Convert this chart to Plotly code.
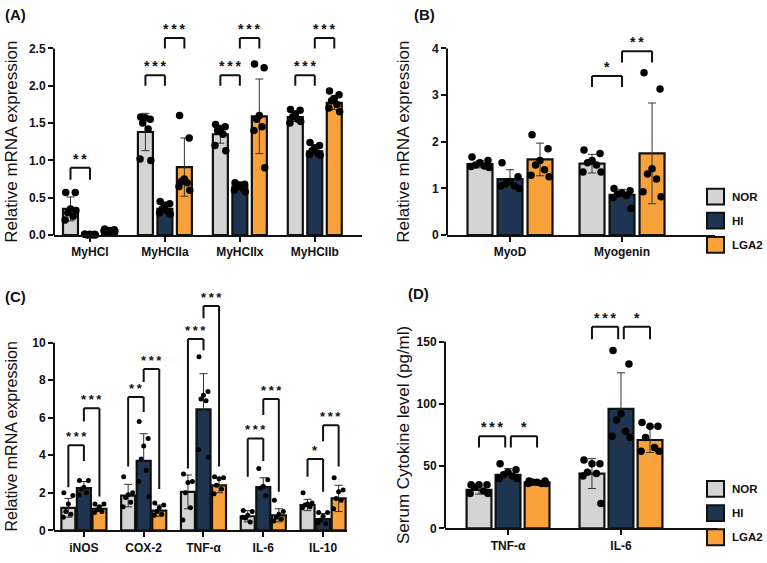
import plotly.graph_objects as go

W, H = 767, 563
FONT = "Arial, Liberation Sans, sans-serif"

series = ["NOR", "HI", "LGA2"]
colors = ["#d4d4d4", "#1e3552", "#f9a23c"]

# ---------------- Panel A ----------------
a_cats = ["MyHCI", "MyHCIIa", "MyHCIIx", "MyHCIIb"]
a_nor_mean = [0.35, 1.38, 1.35, 1.58]
a_hi_mean = [0.01, 0.35, 0.65, 1.12]
a_lga_mean = [0.05, 0.91, 1.59, 1.77]
a_nor_sd = [0.16, 0.25, 0.12, 0.06]
a_hi_sd = [0.01, 0.08, 0.04, 0.05]
a_lga_sd = [0.02, 0.39, 0.50, 0.09]
a_nor_pts = [[0.57, 0.57, 0.35, 0.30, 0.25, 0.20, 0.33],
             [1.58, 1.55, 1.57, 1.50, 1.42, 1.02, 1.00],
             [1.48, 1.45, 1.42, 1.40, 1.35, 1.20, 1.13],
             [1.68, 1.67, 1.62, 1.58, 1.55, 1.50, 1.52]]
a_hi_pts = [[0.01, 0.01, 0.01, 0.0, 0.0, 0.01, 0.0],
            [0.45, 0.42, 0.40, 0.35, 0.32, 0.30, 0.28],
            [0.70, 0.68, 0.67, 0.65, 0.63, 0.60, 0.58],
            [1.24, 1.20, 1.17, 1.13, 1.10, 1.08, 1.07]]
a_lga_pts = [[0.08, 0.07, 0.06, 0.05, 0.04, 0.06, 0.05],
             [1.60, 1.30, 0.75, 0.72, 0.70, 0.65, 0.60],
             [2.29, 2.24, 1.60, 1.55, 1.45, 1.40, 0.90],
             [1.93, 1.88, 1.83, 1.80, 1.75, 1.70, 1.65]]
# (category, group1, group2, top, leg1 bottom, leg2 bottom, stars)
a_brackets = [(0, 0, 1, 0.90, 0.74, 0.74, 2),
              (1, 0, 1, 2.14, 2.00, 2.00, 3), (1, 1, 2, 2.64, 2.50, 2.50, 3),
              (2, 0, 1, 2.14, 2.00, 2.00, 3), (2, 1, 2, 2.64, 2.50, 2.50, 3),
              (3, 0, 1, 2.14, 2.00, 2.00, 3), (3, 1, 2, 2.64, 2.50, 2.50, 3)]

# ---------------- Panel B ----------------
b_cats = ["MyoD", "Myogenin"]
b_nor_mean = [1.52, 1.53]
b_hi_mean = [1.20, 0.86]
b_lga_mean = [1.62, 1.75]
b_nor_sd = [0.08, 0.20]
b_hi_sd = [0.20, 0.12]
b_lga_sd = [0.35, 1.08]
b_nor_pts = [[1.67, 1.60, 1.55, 1.50, 1.48, 1.47, 1.45],
             [1.82, 1.75, 1.60, 1.55, 1.50, 1.35, 1.35]]
b_hi_pts = [[1.55, 1.25, 1.15, 1.10, 1.05, 1.05, 1.00],
            [1.00, 0.95, 0.90, 0.88, 0.85, 0.80, 0.57]]
b_lga_pts = [[2.15, 1.85, 1.60, 1.50, 1.40, 1.28, 1.25],
             [3.48, 3.13, 1.42, 1.31, 1.20, 0.93, 0.82]]
b_brackets = [(1, 0, 1, 3.41, 3.17, 3.17, 1), (1, 1, 2, 3.94, 3.70, 3.70, 2)]

# ---------------- Panel C ----------------
c_cats = ["iNOS", "COX-2", "TNF-α", "IL-6", "IL-10"]
c_nor_mean = [1.20, 1.85, 2.05, 0.75, 1.35]
c_hi_mean = [2.25, 3.70, 6.45, 2.30, 0.60]
c_lga_mean = [1.15, 1.05, 2.40, 0.80, 1.70]
c_nor_sd = [0.50, 0.60, 0.90, 0.30, 0.30]
c_hi_sd = [0.35, 1.45, 1.90, 0.50, 0.30]
c_lga_sd = [0.15, 0.30, 0.40, 0.35, 0.70]
c_nor_pts = [[2.0, 1.85, 1.4, 1.0, 0.85, 0.7],
             [2.85, 2.0, 1.9, 1.75, 1.5, 1.25],
             [3.0, 2.6, 2.55, 2.0, 1.2, 0.55],
             [1.05, 1.0, 0.8, 0.65, 0.45, 0.7],
             [2.0, 1.45, 1.4, 1.35, 1.25, 1.2]]
c_hi_pts = [[2.65, 2.65, 2.3, 2.2, 2.0, 1.9],
            [5.8, 4.9, 4.5, 3.8, 3.2, 2.6, 1.8],
            [9.25, 7.4, 7.2, 7.0, 6.9, 4.3, 3.9],
            [3.3, 2.7, 2.35, 2.25, 1.85],
            [0.95, 0.95, 0.75, 0.55, 0.35, 0.4]]
c_lga_pts = [[1.4, 1.4, 1.25, 1.1, 1.0, 0.95],
             [1.45, 1.35, 1.2, 1.0, 0.85, 0.8],
             [2.85, 2.8, 2.75, 2.4, 2.2, 1.95],
             [1.6, 1.0, 0.85, 0.7, 0.6, 0.5],
             [2.8, 2.15, 2.05, 1.7, 1.6, 1.15]]
c_brackets = [(0, 0, 1, 4.53, 2.3, 3.7, 3), (0, 1, 2, 6.5, 5.8, 1.8, 3),
              (1, 0, 1, 7.1, 3.4, 6.3, 2), (1, 1, 2, 8.6, 7.9, 2.2, 3),
              (2, 0, 1, 10.2, 3.3, 9.6, 3), (2, 1, 2, 11.95, 11.3, 3.4, 3),
              (3, 0, 1, 4.9, 2.85, 3.7, 3), (3, 1, 2, 7.0, 6.15, 2.05, 3),
              (4, 0, 1, 3.8, 2.85, 2.05, 1), (4, 1, 2, 5.6, 4.75, 3.4, 3)]

# ---------------- Panel D ----------------
d_cats = ["TNF-α", "IL-6"]
d_nor_mean = [31, 44]
d_hi_mean = [43, 96]
d_lga_mean = [37, 71]
d_nor_sd = [3.5, 12]
d_hi_sd = [5, 29]
d_lga_sd = [1.5, 10]
d_nor_pts = [[35, 35, 35, 33, 30, 28, 28], [55, 52, 52, 45, 44, 42, 20]]
d_hi_pts = [[52, 47, 45, 43, 42, 40, 40], [143, 132, 92, 87, 78, 74, 73]]
d_lga_pts = [[38, 38, 37, 37, 36, 36, 36], [85, 82, 82, 73, 65, 62, 62]]
d_brackets = [(0, 0, 1, 74, 65, 65, 3), (0, 1, 2, 74, 65, 65, 1),
              (1, 0, 1, 162, 152, 152, 3), (1, 1, 2, 162, 152, 152, 1)]

panels = [
    dict(key="", cats=a_cats, means=[a_nor_mean, a_hi_mean, a_lga_mean],
         sds=[a_nor_sd, a_hi_sd, a_lga_sd], pts=[a_nor_pts, a_hi_pts, a_lga_pts],
         br=a_brackets, x0=54, x1=362, y0=238, ppu=75.6, xr=[-0.48, 3.63], ytop=2.95,
         ticks=[0, 0.5, 1.0, 1.5, 2.0, 2.5], tfmt=".1f", bw=0.2, off=0.26, ms=7.5,
         title="Relative mRNA expression", tsize=17, tx=12, label="(A)", lx=3, ly=4,
         star=14, gap=0),
    dict(key="2", cats=b_cats, means=[b_nor_mean, b_hi_mean, b_lga_mean],
         sds=[b_nor_sd, b_hi_sd, b_lga_sd], pts=[b_nor_pts, b_hi_pts, b_lga_pts],
         br=b_brackets, x0=447, x1=715, y0=238, ppu=47.25, xr=[-0.5625, 1.83], ytop=4.4,
         ticks=[0, 1, 2, 3, 4], tfmt="d", bw=0.223, off=0.268, ms=7.5,
         title="Relative mRNA expression", tsize=17, tx=404, label="(B)", lx=412, ly=4,
         star=14, gap=0),
    dict(key="3", cats=c_cats, means=[c_nor_mean, c_hi_mean, c_lga_mean],
         sds=[c_nor_sd, c_hi_sd, c_lga_sd], pts=[c_nor_pts, c_hi_pts, c_lga_pts],
         br=c_brackets, x0=54, x1=347, y0=537, ppu=19.0, xr=[-0.5, 4.4], ytop=12.4,
         ticks=[0, 2, 4, 6, 8, 10], tfmt="d", bw=0.234, off=0.26, ms=5,
         title="Relative mRNA expression", tsize=16, tx=12, label="(C)", lx=3, ly=290,
         star=13, gap=0),
    dict(key="4", cats=d_cats, means=[d_nor_mean, d_hi_mean, d_lga_mean],
         sds=[d_nor_sd, d_hi_sd, d_lga_sd], pts=[d_nor_pts, d_hi_pts, d_lga_pts],
         br=d_brackets, x0=445, x1=717, y0=535, ppu=1.26, xr=[-0.558, 1.85], ytop=178,
         ticks=[0, 50, 100, 150], tfmt="d", bw=0.22, off=0.257, ms=7.5,
         title="Serum Cytokine level (pg/ml)", tsize=17, tx=403, label="(D)", lx=406, ly=287,
         star=14, gap=0.025),
]

jitter = [-0.32, 0.32, 0.0, -0.18, 0.18, -0.36, 0.36]

fig = go.Figure()
shapes = []
annotations = []
layout = {}

for p in panels:
    k = p["key"]
    xa, ya = "x" + k, "y" + k
    offs = [-p["off"], 0.0, p["off"]]
    for g in range(3):
        xs = [i + offs[g] for i in range(len(p["cats"]))]
        fig.add_trace(go.Bar(
            x=xs, y=p["means"][g], width=p["bw"], name=series[g], showlegend=False,
            marker=dict(color=colors[g], line=dict(color="#111111", width=2.2)),
            error_y=dict(type="data", array=p["sds"][g], color="#333333",
                         thickness=1, width=4),
            xaxis=xa, yaxis=ya))
    for g in range(3):
        px, py = [], []
        for i, vals in enumerate(p["pts"][g]):
            for j, v in enumerate(vals):
                px.append(i + offs[g] + jitter[j % len(jitter)] * p["bw"])
                py.append(v)
        fig.add_trace(go.Scatter(
            x=px, y=py, mode="markers", showlegend=False, cliponaxis=False,
            marker=dict(color="#000000", size=p["ms"]), xaxis=xa, yaxis=ya))

    top_px = p["y0"] - p["ytop"] * p["ppu"]
    layout["xaxis" + k] = dict(
        domain=[p["x0"] / W, p["x1"] / W], anchor=ya, range=p["xr"],
        tickvals=list(range(len(p["cats"]))), ticktext=p["cats"],
        showline=True, linecolor="#111111", linewidth=2, ticks="outside",
        ticklen=5, tickwidth=2, tickcolor="#111111", showgrid=False, zeroline=False,
        tickfont=dict(family=FONT, size=12, color="#111111", weight="bold"))
    layout["yaxis" + k] = dict(
        domain=[1 - p["y0"] / H, 1 - top_px / H], anchor=xa, range=[0, p["ytop"]],
        tickvals=p["ticks"], tickformat=p["tfmt"], showline=False, ticks="outside",
        ticklen=5, tickwidth=2, tickcolor="#111111", showgrid=False, zeroline=False,
        tickfont=dict(family=FONT, size=12, color="#111111", weight="bold"))
    shapes.append(dict(type="line", xref=xa + " domain", yref=ya, x0=0, x1=0,
                       y0=0, y1=p["ticks"][-1], line=dict(color="#111111", width=2)))
    for (c, g1, g2, yt, l1, l2, nstar) in p["br"]:
        xa1 = c + offs[g1] + (p["gap"] if g1 == 1 else 0)
        xa2 = c + offs[g2] - (p["gap"] if g2 == 1 else 0)
        for (xx0, yy0, xx1, yy1) in [(xa1, l1, xa1, yt), (xa1, yt, xa2, yt), (xa2, yt, xa2, l2)]:
            shapes.append(dict(type="line", xref=xa, yref=ya, x0=xx0, y0=yy0, x1=xx1, y1=yy1,
                               line=dict(color="#111111", width=2)))
        annotations.append(dict(x=(xa1 + xa2) / 2, y=yt, xref=xa, yref=ya,
                                text="\u2009".join(["*"] * nstar),
                                showarrow=False, yanchor="bottom", yshift=-1,
                                font=dict(family=FONT, size=p["star"], color="#111111",
                                          weight="bold")))
    annotations.append(dict(x=p["tx"] / W, y=1 - (p["y0"] - p["ticks"][-1] * p["ppu"] / 2) / H,
                            xref="paper", yref="paper", text=p["title"], textangle=-90,
                            showarrow=False, xanchor="center", yanchor="middle",
                            font=dict(family=FONT, size=p["tsize"], color="#111111")))
    annotations.append(dict(x=p["lx"] / W, y=1 - p["ly"] / H, xref="paper", yref="paper",
                            text=p["label"], showarrow=False, xanchor="left", yanchor="top",
                            font=dict(family=FONT, size=15, color="#111111", weight="bold")))

# manual legends (beside panel B and beside panel D)
for ytop_px in [191, 487]:
    for g in range(3):
        y0 = ytop_px + g * 24.5
        shapes.append(dict(type="rect", xref="paper", yref="paper",
                           x0=707 / W, x1=724 / W, y0=1 - (y0 + 16) / H, y1=1 - y0 / H,
                           fillcolor=colors[g], line=dict(color="#111111", width=2)))
        annotations.append(dict(x=730 / W, y=1 - (y0 + 8) / H, xref="paper", yref="paper",
                                text=series[g], showarrow=False, xanchor="left",
                                yanchor="middle",
                                font=dict(family=FONT, size=11.5, color="#111111",
                                          weight="bold")))

fig.update_layout(
    width=W, height=H, margin=dict(l=0, r=0, t=0, b=0),
    paper_bgcolor="white", plot_bgcolor="white", barmode="overlay",
    shapes=shapes, annotations=annotations, **layout)

fig.write_html("out.html")
